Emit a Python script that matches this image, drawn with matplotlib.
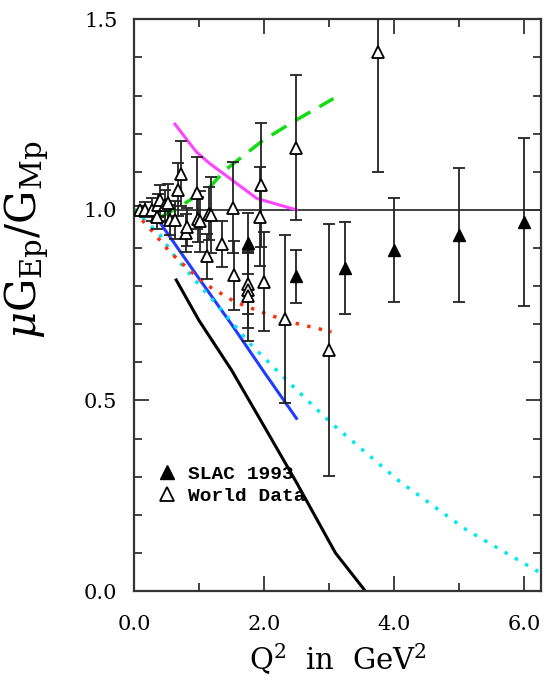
import numpy as np
import matplotlib
matplotlib.use('Agg')
import matplotlib.pyplot as plt
from matplotlib.lines import Line2D
from matplotlib.ticker import MultipleLocator, FormatStrFormatter

plt.rcParams['font.family'] = 'DejaVu Serif'
plt.rcParams['mathtext.fontset'] = 'dejavuserif'

# SLAC 1993 (filled triangles)
slac_q2 = [1.75, 2.5, 3.25, 4.0, 5.0, 6.0]
slac_r = [0.913, 0.826, 0.847, 0.894, 0.934, 0.968]
slac_err = [0.08, 0.07, 0.12, 0.137, 0.177, 0.22]

# World data (open triangles)
world_q2 = [0.1, 0.17, 0.27, 0.35, 0.37, 0.4, 0.48, 0.53, 0.55, 0.63, 0.68, 0.72,
            0.8, 0.82, 0.97, 0.99, 1.02, 1.13, 1.16, 1.18, 1.36, 1.52, 1.54,
            1.76, 1.76, 1.76, 1.94, 1.96, 2.0, 2.33, 2.5, 3.0, 3.75]
world_r = [1.0, 1.0, 1.0, 0.98, 1.012, 1.025, 1.012, 1.018, 0.973, 0.973, 1.053, 1.095,
           0.94, 0.955, 1.045, 0.975, 0.97, 0.878, 0.99, 0.986, 0.91, 1.006, 0.828,
           0.806, 0.79, 0.775, 0.982, 1.065, 0.811, 0.713, 1.163, 0.632, 1.414]
world_err = [0.01, 0.02, 0.03, 0.03, 0.03, 0.04, 0.04, 0.05, 0.04, 0.05, 0.07, 0.085,
             0.05, 0.05, 0.094, 0.06, 0.08, 0.06, 0.07, 0.1, 0.06, 0.12, 0.09,
             0.08, 0.1, 0.12, 0.13, 0.163, 0.13, 0.22, 0.19, 0.33, 0.315]

# theory curves
black_q2 = [0.65, 1.0, 1.25, 1.5, 2.0, 2.5, 3.1, 3.56]
black_r = [0.816, 0.71, 0.645, 0.58, 0.433, 0.285, 0.10, 0.0]
blue_q2 = [0.32, 1.0, 1.5, 2.0, 2.5]
blue_r = [0.986, 0.82, 0.70, 0.575, 0.453]
cyan_q2 = [0.0, 0.4, 0.63, 1.02, 1.35, 1.78, 2.35, 3.02, 4.09, 5.12, 6.25]
cyan_r = [1.0, 0.934, 0.877, 0.80, 0.737, 0.65, 0.553, 0.443, 0.287, 0.16, 0.048]
red_q2 = [0.0, 0.17, 0.3, 0.55, 0.91, 1.12, 1.55, 2.02, 2.45, 3.04]
red_r = [0.995, 0.965, 0.94, 0.89, 0.833, 0.803, 0.759, 0.728, 0.704, 0.68]
green_q2 = [0.0, 0.4, 0.7, 1.17, 1.4, 1.99, 2.5, 3.07]
green_r = [1.0, 0.98, 1.008, 1.06, 1.104, 1.183, 1.236, 1.292]
magenta_q2 = [0.63, 0.96, 1.17, 1.48, 1.89, 2.5]
magenta_r = [1.225, 1.152, 1.121, 1.082, 1.03, 1.0]

fig = plt.figure(figsize=(5.46, 6.82), dpi=100)
ax = fig.add_axes([0.2454, 0.1334, 0.745, 0.8383])

ax.axhline(1.0, color='#333333', lw=1.3, zorder=1)
ax.plot(black_q2, black_r, color='black', lw=2.2, zorder=2)
ax.plot(blue_q2, blue_r, color='#1f3cff', lw=2.2, zorder=2)
ax.plot(cyan_q2, cyan_r, color='#00e8f0', lw=2.5, linestyle=(0, (1, 2.4)), zorder=2)
ax.plot(red_q2, red_r, color='#ff3010', lw=2.5, linestyle=(0, (1, 2.4)), zorder=2)
ax.plot(green_q2, green_r, color='#11dd11', lw=2.5, linestyle=(0, (5, 3)), zorder=2)
ax.plot(magenta_q2, magenta_r, color='#ff44ff', lw=2.2, zorder=2)

ax.errorbar(world_q2, world_r, yerr=world_err, fmt='^', ms=9, mfc='white', mec='black',
            mew=1.3, ecolor='#222222', elinewidth=1.3, capsize=4, capthick=1.3, zorder=3)
ax.errorbar(slac_q2, slac_r, yerr=slac_err, fmt='^', ms=9, mfc='black', mec='black',
            ecolor='#222222', elinewidth=1.3, capsize=4, capthick=1.3, zorder=4)

ax.set_xlim(0, 6.26)
ax.set_ylim(0, 1.5)
ax.xaxis.set_major_locator(MultipleLocator(2.0))
ax.xaxis.set_minor_locator(MultipleLocator(1.0))
ax.yaxis.set_major_locator(MultipleLocator(0.5))
ax.yaxis.set_minor_locator(MultipleLocator(0.1))
ax.xaxis.set_major_formatter(FormatStrFormatter('%.1f'))
ax.yaxis.set_major_formatter(FormatStrFormatter('%.1f'))
ax.tick_params(which='both', direction='in', top=True, right=True, width=1.3, color='#333333')
ax.tick_params(which='major', length=11, labelsize=15)
ax.tick_params(axis='x', which='major', pad=17)
ax.tick_params(axis='y', which='major', pad=12)
ax.tick_params(which='minor', length=6)
for s in ax.spines.values():
    s.set_linewidth(1.6)
    s.set_color('#333333')

ax.set_xlabel(r'Q$^2$  in  GeV$^2$', fontsize=21, labelpad=6)
ax.set_ylabel(r'$\mu\mathrm{G}_{\mathrm{Ep}}/\mathrm{G}_{\mathrm{Mp}}$', fontsize=30)
ax.yaxis.set_label_coords(-0.205, 0.615)

handles = [Line2D([], [], marker='^', ls='none', ms=10, mfc='black', mec='black'),
           Line2D([], [], marker='^', ls='none', ms=10, mfc='white', mec='black', mew=1.3)]
ax.legend(handles, ['SLAC 1993', 'World Data'], loc='upper left', bbox_to_anchor=(0.01, 0.25),
          frameon=False, handletextpad=0.45, labelspacing=0.2, handlelength=1.2,
          prop={'family': 'Liberation Mono', 'weight': 'bold', 'size': 14})

fig.savefig('out.png', dpi=100)
